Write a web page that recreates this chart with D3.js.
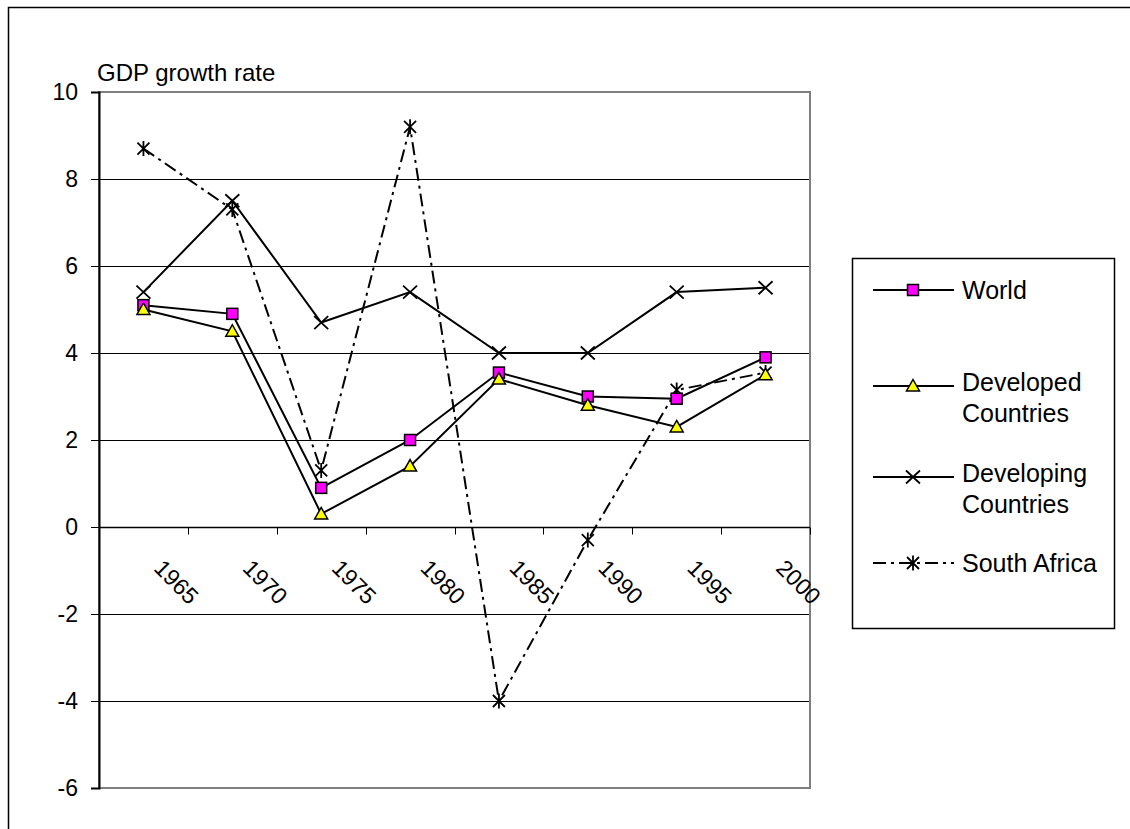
<!DOCTYPE html>
<html><head><meta charset="utf-8">
<script src="https://cdn.jsdelivr.net/npm/d3@7/dist/d3.min.js"></script>
<style>
html,body{margin:0;padding:0;background:#fff;}
svg{display:block;font-family:"Liberation Sans",Arial,sans-serif;}
</style></head>
<body>
<svg id="chart" width="1130" height="829"></svg>
<script>
const years = ["1965","1970","1975","1980","1985","1990","1995","2000"];
const world = [5.1, 4.9, 0.9, 2.0, 3.55, 3.0, 2.95, 3.9];
const developed = [5.0, 4.5, 0.3, 1.4, 3.4, 2.8, 2.3, 3.5];
const developing = [5.4, 7.5, 4.7, 5.4, 4.0, 4.0, 5.4, 5.5];
const southAfrica = [8.7, 7.3, 1.3, 9.2, -4.0, -0.3, 3.15, 3.55];
const yTicks = [-6, -4, -2, 0, 2, 4, 6, 8, 10];
const seriesNames = ["World", "Developed Countries", "Developing Countries", "South Africa"];

const FS = 23, FS_LEG = 25, FS_TITLE = 24;
const svg = d3.select("#chart");
const L = 99, R = 810, T = 92, B = 788;
const x = d3.scaleBand().domain(years).range([L, R]).padding(0);
const y = d3.scaleLinear().domain([-6, 10]).range([B, T]);
const cx = d => x(d) + x.bandwidth() / 2;

// outer chart border
svg.append("rect").attr("x", 8.5).attr("y", 7.5).attr("width", 1140).attr("height", 900)
  .attr("fill", "none").attr("stroke", "#000").attr("stroke-width", 1.5);

// gridlines
svg.append("g").selectAll("line").data(yTicks).join("line")
  .attr("x1", L).attr("x2", R)
  .attr("y1", d => Math.round(y(d)) + 0.5).attr("y2", d => Math.round(y(d)) + 0.5)
  .attr("stroke", "#000").attr("stroke-width", 1);

// plot area border (gray)
svg.append("rect").attr("x", L).attr("y", T).attr("width", R - L).attr("height", B - T)
  .attr("fill", "none").attr("stroke", "#808080").attr("stroke-width", 2);

// y axis
const yAxis = d3.axisLeft(y).tickValues(yTicks).tickSize(8).tickPadding(13).tickFormat(d => String(d));
const gy = svg.append("g").attr("transform", `translate(${L},0)`).call(yAxis);
gy.select(".domain").attr("stroke", "#000").attr("stroke-width", 2);
gy.selectAll(".tick line").attr("stroke", "#000").attr("stroke-width", 1);
gy.selectAll(".tick text").attr("font-size", FS).attr("fill", "#000")
  .attr("font-family", "Liberation Sans, Arial, sans-serif");

// x axis at zero
const y0 = Math.round(y(0)) + 0.5;
svg.append("line").attr("x1", L).attr("x2", R).attr("y1", y0).attr("y2", y0)
  .attr("stroke", "#000").attr("stroke-width", 1.5);
const bounds = years.slice(1).map(d => x(d)).concat([x.range()[1]]);
svg.append("g").selectAll("line").data(bounds).join("line")
  .attr("x1", d => Math.round(d) + 0.5).attr("x2", d => Math.round(d) + 0.5)
  .attr("y1", y0).attr("y2", y0 + 7).attr("stroke", "#000").attr("stroke-width", 1);

// x labels rotated
svg.append("g").selectAll("text").data(years).join("text")
  .attr("transform", d => `translate(${cx(d) + 33},${y(0) + 55}) rotate(45)`)
  .attr("text-anchor", "middle").attr("dominant-baseline", "central")
  .attr("font-size", FS).attr("fill", "#000").text(d => d);

// axis title
svg.append("text").attr("x", 97).attr("y", 81).attr("font-size", FS_TITLE).attr("fill", "#000").text("GDP growth rate");

// marker functions
function square(g, px, py) {
  g.append("rect").attr("x", px - 5.5).attr("y", py - 5.5).attr("width", 11).attr("height", 11)
    .attr("fill", "#FF00FF").attr("stroke", "#000").attr("stroke-width", 1.5);
}
function triangle(g, px, py) {
  g.append("path").attr("d", `M${px},${py - 6.5}L${px + 6.5},${py + 5}L${px - 6.5},${py + 5}Z`)
    .attr("fill", "#FFFF00").attr("stroke", "#000").attr("stroke-width", 1.5);
}
function cross(g, px, py) {
  g.append("path").attr("d", `M${px - 7},${py - 6.5}L${px + 7},${py + 6.5}M${px - 7},${py + 6.5}L${px + 7},${py - 6.5}`)
    .attr("stroke", "#000").attr("stroke-width", 1.8).attr("fill", "none");
}
function star(g, px, py) {
  g.append("path").attr("d", `M${px - 6},${py - 6}L${px + 6},${py + 6}M${px - 6},${py + 6}L${px + 6},${py - 6}M${px},${py - 7.5}L${px},${py + 7.5}`)
    .attr("stroke", "#000").attr("stroke-width", 1.8).attr("fill", "none");
}

const line = d3.line().x((d, i) => cx(years[i])).y(d => y(d));
const series = [
  {vals: developing, marker: cross, dash: null},
  {vals: southAfrica, marker: star, dash: "13,5,3,5"},
  {vals: world, marker: square, dash: null},
  {vals: developed, marker: triangle, dash: null}
];
series.forEach(s => {
  svg.append("path").datum(s.vals).attr("d", line).attr("fill", "none")
    .attr("stroke", "#000").attr("stroke-width", 2)
    .attr("stroke-dasharray", s.dash);
});
series.forEach(s => {
  const g = svg.append("g");
  s.vals.forEach((v, i) => s.marker(g, cx(years[i]), y(v)));
});

// legend
svg.append("rect").attr("x", 852.5).attr("y", 258.5).attr("width", 262).attr("height", 370)
  .attr("fill", "#fff").attr("stroke", "#000").attr("stroke-width", 1.5);
const legendItems = [
  {name: seriesNames[0], lines: ["World"], ly: 290, marker: square, dash: null},
  {name: seriesNames[1], lines: ["Developed", "Countries"], ly: 386, marker: triangle, dash: null},
  {name: seriesNames[2], lines: ["Developing", "Countries"], ly: 477, marker: cross, dash: null},
  {name: seriesNames[3], lines: ["South Africa"], ly: 563, marker: star, dash: "13,5,3,5"}
];
legendItems.forEach(it => {
  const g = svg.append("g");
  g.append("line").attr("x1", 873).attr("x2", 954).attr("y1", it.ly).attr("y2", it.ly)
    .attr("stroke", "#000").attr("stroke-width", 2).attr("stroke-dasharray", it.dash);
  it.marker(g, 913, it.ly);
  const top = it.lines.length === 1 ? it.ly : it.ly - 4;
  it.lines.forEach((t, k) => {
    g.append("text").attr("x", 962).attr("y", top + k * 31).attr("dominant-baseline", "central")
      .attr("font-size", FS_LEG).attr("fill", "#000").text(t);
  });
});
</script>
</body></html>
